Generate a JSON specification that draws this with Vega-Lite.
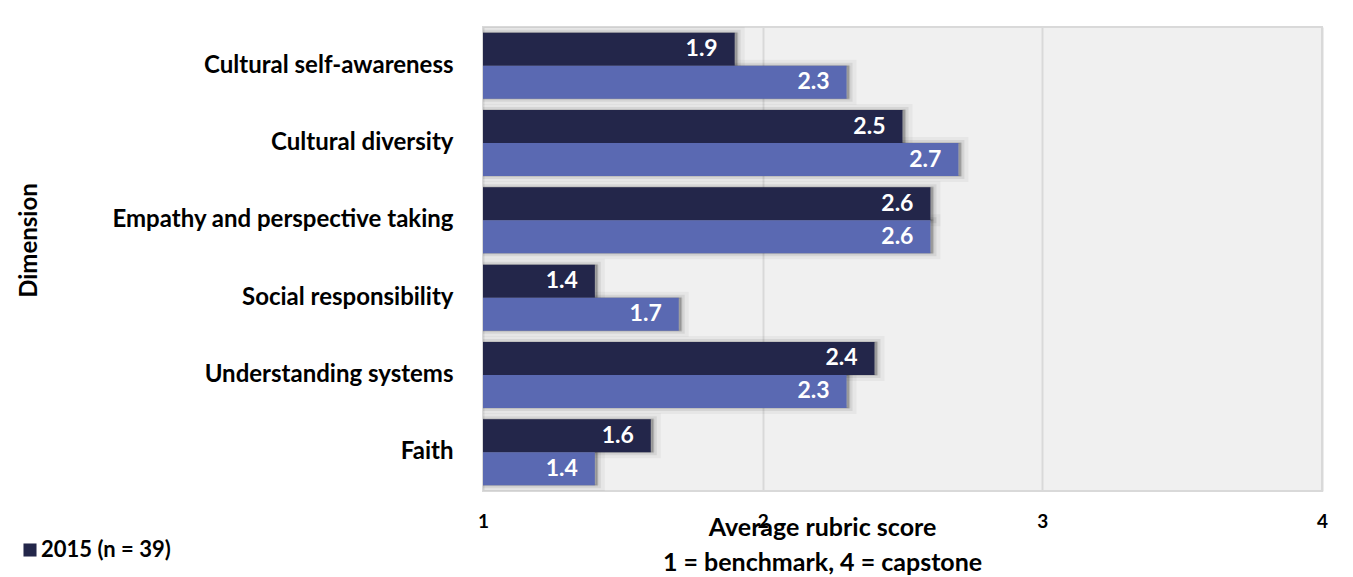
{
  "$schema": "https://vega.github.io/schema/vega-lite/v6.json",
  "autosize": "none",
  "width": 839,
  "height": 464,
  "padding": {"left": 483, "top": 27, "right": 31, "bottom": 86},
  "background": "white",
  "config": {
    "font": "Lato",
    "view": {"fill": "#f0f0f0", "stroke": "#d9d9d9", "strokeWidth": 2},
    "axis": {"labelFont": "Lato", "titleFont": "Lato"}
  },
  "data": {
    "values": [
      {"dimension": "Cultural self-awareness", "cohort": "2015 (n = 39)", "score": 1.9},
      {"dimension": "Cultural self-awareness", "cohort": "Later cohort", "score": 2.3},
      {"dimension": "Cultural diversity", "cohort": "2015 (n = 39)", "score": 2.5},
      {"dimension": "Cultural diversity", "cohort": "Later cohort", "score": 2.7},
      {"dimension": "Empathy and perspective taking", "cohort": "2015 (n = 39)", "score": 2.6},
      {"dimension": "Empathy and perspective taking", "cohort": "Later cohort", "score": 2.6},
      {"dimension": "Social responsibility", "cohort": "2015 (n = 39)", "score": 1.4},
      {"dimension": "Social responsibility", "cohort": "Later cohort", "score": 1.7},
      {"dimension": "Understanding systems", "cohort": "2015 (n = 39)", "score": 2.4},
      {"dimension": "Understanding systems", "cohort": "Later cohort", "score": 2.3},
      {"dimension": "Faith", "cohort": "2015 (n = 39)", "score": 1.6},
      {"dimension": "Faith", "cohort": "Later cohort", "score": 1.4}
    ]
  },
  "encoding": {
    "y": {
      "field": "dimension",
      "type": "nominal",
      "sort": null,
      "scale": {"paddingInner": 0.146, "paddingOuter": 0.074},
      "axis": {
        "title": "Dimension",
        "titleFontSize": 24,
        "titleFontWeight": "bold",
        "titleColor": "black",
        "titleAngle": -90,
        "titleAlign": "center",
        "titleBaseline": "middle",
        "titleX": -454,
        "titleY": 213,
        "labelFontSize": 24,
        "labelFontWeight": "bold",
        "labelColor": "black",
        "labelLimit": 0,
        "labelPadding": 30,
        "ticks": false,
        "domain": false,
        "grid": false
      }
    },
    "yOffset": {"field": "cohort", "type": "nominal", "sort": ["2015 (n = 39)", "Later cohort"]},
    "x": {
      "field": "score",
      "type": "quantitative",
      "scale": {"domain": [1, 4], "nice": false, "zero": false},
      "axis": {
        "values": [1, 2, 3, 4],
        "format": "d",
        "title": ["Average rubric score", "1 = benchmark, 4 = capstone"],
        "titleFontSize": 25,
        "titleFontWeight": "bold",
        "titleColor": "black",
        "titleLineHeight": 35,
        "titleAlign": "center",
        "titleBaseline": "top",
        "titleX": 339,
        "titleY": 24,
        "labelFontSize": 19,
        "labelFontWeight": "bold",
        "labelColor": "black",
        "labelBaseline": "middle",
        "labelFlush": false,
        "labelPadding": 30,
        "ticks": false,
        "domain": false,
        "grid": true,
        "gridColor": "#d9d9d9",
        "gridWidth": 2
      }
    }
  },
  "layer": [
    {
      "mark": {"type": "bar", "clip": true, "fill": "#000000", "fillOpacity": 0.05, "stroke": "#000000", "strokeOpacity": 0.04, "strokeWidth": 12, "xOffset": 4},
      "encoding": {"x2": {"datum": 1}}
    },
    {
      "mark": {"type": "bar", "clip": true, "fill": "#000000", "fillOpacity": 0.08, "stroke": "#000000", "strokeOpacity": 0.07, "strokeWidth": 6, "xOffset": 3},
      "encoding": {"x2": {"datum": 1}}
    },
    {
      "mark": {"type": "bar", "clip": true, "fill": "#000000", "fillOpacity": 0.12, "stroke": "#000000", "strokeOpacity": 0.1, "strokeWidth": 2, "xOffset": 2},
      "encoding": {"x2": {"datum": 1}}
    },
    {
      "mark": {"type": "bar"},
      "encoding": {
        "x2": {"datum": 1},
        "color": {
          "field": "cohort",
          "type": "nominal",
          "scale": {"domain": ["2015 (n = 39)", "Later cohort"], "range": ["#23264a", "#5a69b2"]},
          "legend": {
            "values": ["2015 (n = 39)"],
            "title": null,
            "orient": "none",
            "legendX": -464,
            "legendY": 512,
            "symbolType": "square",
            "symbolSize": 170,
            "symbolStrokeWidth": 0,
            "labelFontSize": 22,
            "labelFontWeight": "bold",
            "labelColor": "black",
            "labelFont": "Lato",
            "labelOffset": 0
          }
        }
      }
    },
    {
      "mark": {"type": "text", "align": "right", "baseline": "middle", "dx": -17, "color": "white", "fontSize": 23, "fontWeight": "bold"},
      "encoding": {
        "text": {"field": "score", "type": "quantitative", "format": ".1f"}
      }
    }
  ]
}
